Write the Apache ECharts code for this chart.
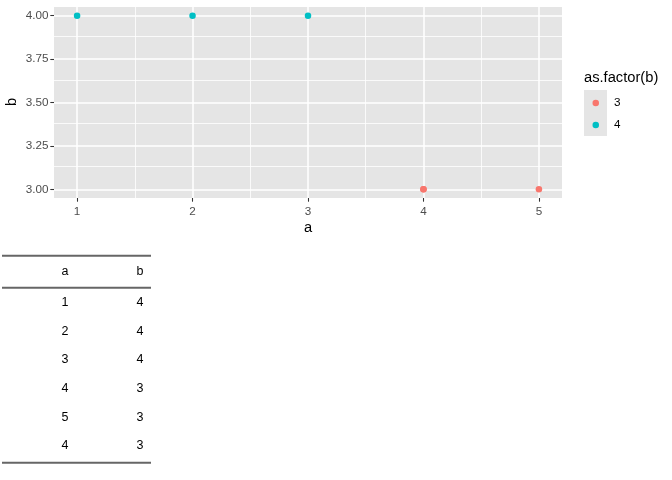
<!DOCTYPE html>
<html>
<head>
<meta charset="utf-8">
<script src="https://cdn.jsdelivr.net/npm/echarts@6/dist/echarts.min.js"></script>
<style>html,body{margin:0;padding:0;background:#fff;}#c{width:672px;height:480px;}</style>
</head>
<body>
<div id="c"></div>
<script>
// Data
var colA = [1, 2, 3, 4, 5, 4];
var colB = [4, 4, 4, 3, 3, 3];
var groups = ['3', '4'];
var groupColors = ['#F8766D', '#00BFC4'];
var xTicks = [1, 2, 3, 4, 5];
var xMinor = [1.5, 2.5, 3.5, 4.5];
var yTicks = [3.00, 3.25, 3.50, 3.75, 4.00];
var yMinor = [3.125, 3.375, 3.625, 3.875];
var tableHeader = ['a', 'b'];

var chart = echarts.init(document.getElementById('c'), null, {renderer: 'canvas'});

var font = '"Liberation Sans", Arial, Helvetica, sans-serif';
var panelColor = '#E5E5E5';

function pointsFor(g) {
  var out = [];
  for (var i = 0; i < colA.length; i++) {
    if (String(colB[i]) === g) out.push([colA[i], colB[i]]);
  }
  return out;
}

var gridLines = [];
xMinor.forEach(function (v) { gridLines.push({xAxis: v, lineStyle: {width: 0.8}}); });
yMinor.forEach(function (v) { gridLines.push({yAxis: v, lineStyle: {width: 0.8}}); });
xTicks.forEach(function (v) { gridLines.push({xAxis: v, lineStyle: {width: 1.5}}); });
yTicks.forEach(function (v) { gridLines.push({yAxis: v, lineStyle: {width: 1.5}}); });

var series = [{
  type: 'scatter',
  data: [],
  z: 1,
  zlevel: 0,
  silent: true,
  markLine: {
    silent: true,
    symbol: 'none',
    animation: false,
    label: {show: false},
    lineStyle: {color: '#FFFFFF', type: 'solid', width: 1},
    emphasis: {disabled: true},
    data: gridLines
  }
}];
groups.forEach(function (g, i) {
  series.push({
    name: g,
    type: 'scatter',
    z: 3,
    zlevel: 1,
    symbol: 'circle',
    symbolSize: 6.5,
    itemStyle: {color: groupColors[i], opacity: 1},
    data: pointsFor(g)
  });
});

// table graphics
var graphics = [];
var colX = [65, 140];
var ruleLeft = 2, ruleRight = 151;
graphics.push({type: 'rect', shape: {x: ruleLeft, y: 254.7, width: ruleRight - ruleLeft, height: 2}, style: {fill: '#666666'}});
graphics.push({type: 'rect', shape: {x: ruleLeft, y: 286.7, width: ruleRight - ruleLeft, height: 2}, style: {fill: '#666666'}});
graphics.push({type: 'rect', shape: {x: ruleLeft, y: 461.7, width: ruleRight - ruleLeft, height: 2}, style: {fill: '#666666'}});
tableHeader.forEach(function (h, j) {
  graphics.push({type: 'text', x: colX[j], y: 271.7, style: {text: h, fill: '#000', font: '12.5px ' + font, textAlign: 'center', textVerticalAlign: 'middle'}});
});
var rowY0 = 302.7, rowStep = 28.6;
for (var i = 0; i < colA.length; i++) {
  graphics.push({type: 'text', x: colX[0], y: rowY0 + i * rowStep, style: {text: String(colA[i]), fill: '#000', font: '12.5px ' + font, textAlign: 'center', textVerticalAlign: 'middle'}});
  graphics.push({type: 'text', x: colX[1], y: rowY0 + i * rowStep, style: {text: String(colB[i]), fill: '#000', font: '12.5px ' + font, textAlign: 'center', textVerticalAlign: 'middle'}});
}
// legend title and key background
graphics.push({type: 'text', x: 584, y: 78, style: {text: 'as.factor(b)', fill: '#000', font: '14.7px ' + font, textAlign: 'left', textVerticalAlign: 'middle'}});
graphics.push({type: 'rect', shape: {x: 584, y: 90, width: 23, height: 46}, style: {fill: panelColor}, z: -1});
// y axis title
graphics.push({type: 'text', x: 12, y: 102, rotation: Math.PI / 2, style: {text: 'b', fill: '#000', font: '14.7px ' + font, textAlign: 'center', textVerticalAlign: 'middle'}});

var option = {
  animation: false,
  backgroundColor: '#FFFFFF',
  grid: {left: 54, top: 7, right: 110, bottom: 282, show: true, backgroundColor: panelColor, borderWidth: 0, containLabel: false, outerBoundsMode: 'none'},
  xAxis: {
    type: 'value', min: 0.8, max: 5.2,
    name: 'a', nameLocation: 'middle', nameGap: 22,
    nameTextStyle: {color: '#000', fontSize: 14.7, fontFamily: font},
    axisLine: {show: false},
    splitLine: {show: false},
    axisTick: {show: true, customValues: xTicks, length: 3.7, lineStyle: {color: '#333333', width: 1.07}},
    axisLabel: {customValues: xTicks, color: '#4D4D4D', fontSize: 11.7, fontFamily: font, margin: 8}
  },
  yAxis: {
    type: 'value', min: 2.95, max: 4.05,
    axisLine: {show: false},
    splitLine: {show: false},
    axisTick: {show: true, customValues: yTicks, length: 3.7, lineStyle: {color: '#333333', width: 1.07}},
    axisLabel: {customValues: yTicks, color: '#4D4D4D', fontSize: 11.7, fontFamily: font, margin: 5.5,
      formatter: function (v) { return v.toFixed(2); }}
  },
  legend: {
    orient: 'vertical', left: 592.5, top: 97,
    data: groups,
    icon: 'circle', itemWidth: 6.5, itemHeight: 6.5, itemGap: 10,
    textStyle: {color: '#000', fontSize: 11.7, fontFamily: font, padding: [0, 0, 0, 10]},
    padding: 0,
    selectedMode: false
  },
  graphic: graphics,
  series: series
};
chart.setOption(option);
</script>
</body>
</html>
